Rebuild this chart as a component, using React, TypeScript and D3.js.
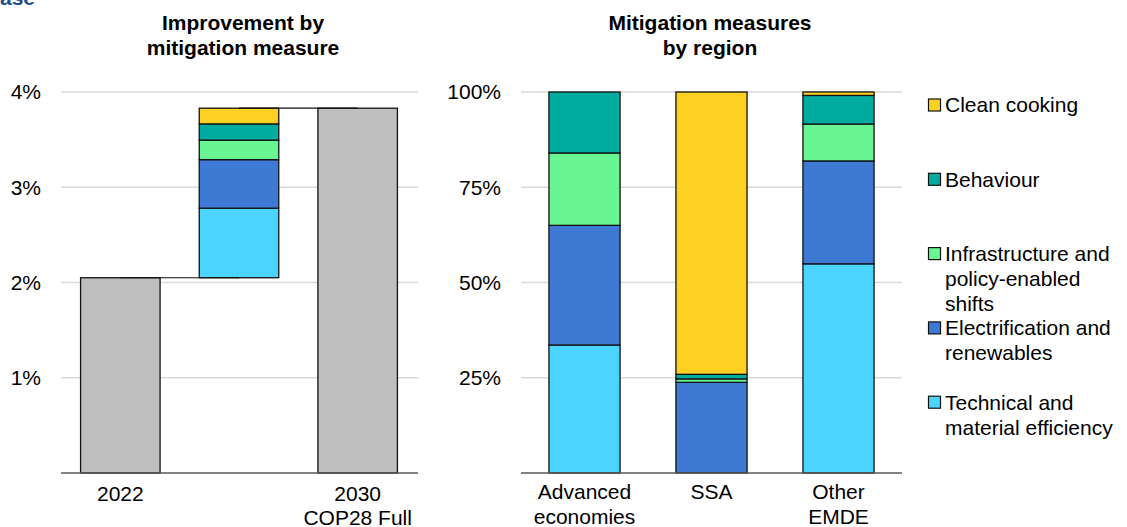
import React, { useEffect, useRef } from 'react';
import * as d3 from 'd3';

// Mitigation measures (bottom to top of the stacks)
const measures = ['technical', 'electrification', 'infrastructure', 'behaviour', 'cooking'];
const measureLabels = [
  ['Technical and', 'material efficiency'],
  ['Electrification and', 'renewables'],
  ['Infrastructure and', 'policy-enabled', 'shifts'],
  ['Behaviour'],
  ['Clean cooking'],
];
const measureColors = ['#4AD4FF', '#3E79D4', '#6AF593', '#00AB9F', '#FDD122'];

// Left panel: waterfall (percent)
const waterfallCategories = ['2022', 'measures', '2030'];
const waterfallLabels = [['2022'], [], ['2030', 'COP28 Full']];
const baseline2022 = 2.05;
const measureSteps = [0.73, 0.51, 0.205, 0.17, 0.165];
const target2030 = 3.83;
const leftTicks = [1, 2, 3, 4];

// Right panel: share by region (percent)
const regions = ['Advanced economies', 'SSA', 'Other EMDE'];
const regionLabels = [['Advanced', 'economies'], ['SSA'], ['Other', 'EMDE']];
const technicalShare = [33.6, 0, 54.9];
const electrificationShare = [31.4, 23.8, 27.0];
const infrastructureShare = [19.0, 0.9, 9.7];
const behaviourShare = [16.0, 1.2, 7.5];
const cookingShare = [0, 74.1, 0.9];
const rightTicks = [25, 50, 75, 100];

const FONT = '"Liberation Sans", Arial, sans-serif';
const EDGE = '#111';

const App: React.FC = () => {
  const ref = useRef<SVGSVGElement>(null);

  useEffect(() => {
    if (!ref.current) return;
    const svg = d3.select(ref.current);
    svg.selectAll('*').remove();
    svg.style('font-family', FONT);

    // heading above the panels, cut by the top edge
    svg.append('text')
      .attr('x', 0).attr('y', 5)
      .attr('fill', '#1F4E8C')
      .style('font-size', '21px').style('font-weight', 'bold')
      .text('ase');

    const titles = [
      { x: 243, lines: ['Improvement by', 'mitigation measure'] },
      { x: 710, lines: ['Mitigation measures', 'by region'] },
    ];
    titles.forEach(t => {
      t.lines.forEach((l, i) => {
        svg.append('text')
          .attr('x', t.x).attr('y', 30 + i * 25)
          .attr('text-anchor', 'middle')
          .style('font-size', '21px').style('font-weight', 'bold')
          .text(l);
      });
    });

    // ---------- left panel ----------
    const y0 = 473;
    const yTop = 92;
    const xL = d3.scaleBand().domain(waterfallCategories).range([61, 417]).paddingInner(0.33).paddingOuter(0.165);
    const yL = d3.scaleLinear().domain([0, 4]).range([y0, yTop]);
    const gl = svg.append('g');

    gl.selectAll('.grid').data(leftTicks).enter().append('line')
      .attr('x1', 61).attr('x2', 418)
      .attr('y1', d => yL(d)).attr('y2', d => yL(d))
      .attr('stroke', '#D9D9D9').attr('stroke-width', 1.5);

    gl.selectAll('.tick').data(leftTicks).enter().append('text')
      .attr('x', 41).attr('y', d => yL(d)).attr('dy', '0.35em')
      .attr('text-anchor', 'end').style('font-size', '21px')
      .text(d => `${d}%`);

    const totals = [baseline2022, target2030];
    [0, 2].forEach((ci, k) => {
      gl.append('rect')
        .attr('x', xL(waterfallCategories[ci])!)
        .attr('width', xL.bandwidth())
        .attr('y', yL(totals[k]))
        .attr('height', yL(0) - yL(totals[k]))
        .attr('fill', '#BFBFBF').attr('stroke', EDGE).attr('stroke-width', 1.3);
    });

    let acc = baseline2022;
    measureSteps.forEach((v, i) => {
      gl.append('rect')
        .attr('x', xL('measures')!)
        .attr('width', xL.bandwidth())
        .attr('y', yL(acc + v))
        .attr('height', yL(acc) - yL(acc + v))
        .attr('fill', measureColors[i]).attr('stroke', EDGE).attr('stroke-width', 1.3);
      acc += v;
    });

    const cx = (c: string) => xL(c)! + xL.bandwidth() / 2;
    const connectors = [
      { a: '2022', b: 'measures', v: baseline2022 },
      { a: 'measures', b: '2030', v: target2030 },
    ];
    connectors.forEach(c => {
      gl.append('line')
        .attr('x1', cx(c.a)).attr('x2', cx(c.b))
        .attr('y1', yL(c.v)).attr('y2', yL(c.v))
        .attr('stroke', EDGE).attr('stroke-width', 1.2);
    });

    gl.append('line')
      .attr('x1', 61).attr('x2', 418).attr('y1', y0).attr('y2', y0)
      .attr('stroke', '#595959').attr('stroke-width', 1.5);

    waterfallCategories.forEach((c, i) => {
      waterfallLabels[i].forEach((l, j) => {
        gl.append('text')
          .attr('x', cx(c)).attr('y', y0 + 28 + j * 24)
          .attr('text-anchor', 'middle').style('font-size', '21px')
          .text(l);
      });
    });

    // ---------- right panel ----------
    const yR = d3.scaleLinear().domain([0, 100]).range([y0, yTop]);
    const xR = d3.scaleBand().domain(regions).range([521, 902]).paddingInner(0.44).paddingOuter(0.22);
    const gr = svg.append('g');

    gr.selectAll('.grid').data(rightTicks).enter().append('line')
      .attr('x1', 521).attr('x2', 902)
      .attr('y1', d => yR(d)).attr('y2', d => yR(d))
      .attr('stroke', '#D9D9D9').attr('stroke-width', 1.5);

    gr.selectAll('.tick').data(rightTicks).enter().append('text')
      .attr('x', 501).attr('y', d => yR(d)).attr('dy', '0.35em')
      .attr('text-anchor', 'end').style('font-size', '21px')
      .text(d => `${d}%`);

    const table = regions.map((r, i) => ({
      region: r,
      technical: technicalShare[i],
      electrification: electrificationShare[i],
      infrastructure: infrastructureShare[i],
      behaviour: behaviourShare[i],
      cooking: cookingShare[i],
    }));
    const series = d3.stack<any>().keys(measures)(table);

    series.forEach((s, si) => {
      gr.selectAll(`.bar-${si}`).data(s).enter().append('rect')
        .attr('x', d => xR(d.data.region)!)
        .attr('width', xR.bandwidth())
        .attr('y', d => yR(d[1]))
        .attr('height', d => yR(d[0]) - yR(d[1]))
        .attr('fill', measureColors[si]).attr('stroke', EDGE).attr('stroke-width', 1.3);
    });

    gr.append('line')
      .attr('x1', 521).attr('x2', 902).attr('y1', y0).attr('y2', y0)
      .attr('stroke', '#595959').attr('stroke-width', 1.5);

    regions.forEach((r, i) => {
      regionLabels[i].forEach((l, j) => {
        gr.append('text')
          .attr('x', xR(r)! + xR.bandwidth() / 2).attr('y', y0 + 26 + j * 25)
          .attr('text-anchor', 'middle').style('font-size', '21px')
          .text(l);
      });
    });

    // ---------- legend ----------
    const legendOrder = [4, 3, 2, 1, 0];
    legendOrder.forEach((mi, k) => {
      const cy = 105 + k * 74.3;
      const lg = svg.append('g');
      lg.append('rect')
        .attr('x', 928.5).attr('y', cy - 6).attr('width', 12).attr('height', 12)
        .attr('fill', measureColors[mi]).attr('stroke', EDGE).attr('stroke-width', 1.2);
      measureLabels[mi].forEach((l, j) => {
        lg.append('text')
          .attr('x', 945).attr('y', cy + j * 25).attr('dy', '0.35em')
          .style('font-size', '21px')
          .text(l);
      });
    });
  }, []);

  return (
    <svg ref={ref} width={1127} height={527}
      style={{ position: 'absolute', left: 0, top: 0, display: 'block', background: '#fff' }} />
  );
};

export default App;
